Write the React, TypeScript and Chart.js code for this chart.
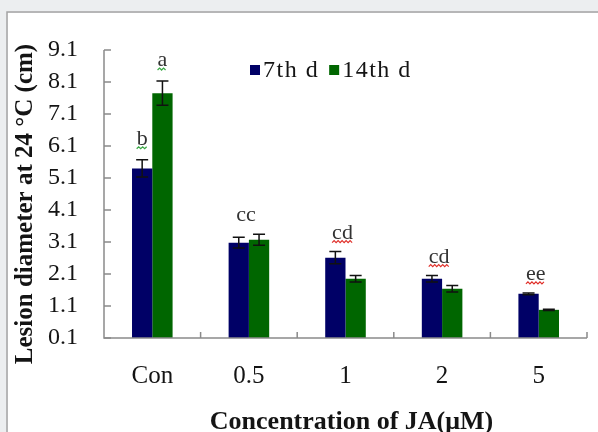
import React, { useEffect, useRef } from "react";
import { Chart, registerables } from "chart.js";

Chart.register(...registerables);

const categories = ["Con", "0.5", "1", "2", "5"];
const seriesNames = ["7th d", "14th d"];
const values7 = [5.4, 3.08, 2.61, 1.95, 1.48];
const errors7 = [0.27, 0.17, 0.19, 0.1, 0.03];
const values14 = [7.75, 3.17, 1.95, 1.64, 0.98];
const errors14 = [0.38, 0.17, 0.1, 0.1, 0.02];
const sig7 = ["b", "", "", "", ""];
const sig14 = ["a", "", "", "", ""];
const sigGroup = ["", "cc", "cd", "cd", "ee"];
const yTicks = [0.1, 1.1, 2.1, 3.1, 4.1, 5.1, 6.1, 7.1, 8.1, 9.1];
const yTickLabels = ["0.1", "1.1", "2.1", "3.1", "4.1", "5.1", "6.1", "7.1", "8.1", "9.1"];
const yTitle = "Lesion diameter at 24 °C (cm)";
const xTitle = "Concentration of JA(μM)";

const BLUE = "#000066";
const GREEN = "#006600";
const AXIS = "#8a8a8a";
const TEXT = "#141414";
const SERIF = "'Liberation Serif', 'Times New Roman', serif";

function wavyColor(label: string): string | null {
  if (label === "a" || label === "b") return "#3aa845";
  if (label === "cd" || label === "ee") return "#e0302a";
  return null;
}

function drawWavy(ctx: CanvasRenderingContext2D, x0: number, x1: number, y: number, color: string) {
  ctx.save();
  ctx.strokeStyle = color;
  ctx.lineWidth = 1.2;
  ctx.beginPath();
  let up = true;
  ctx.moveTo(x0, y);
  for (let x = x0 + 2; x <= x1; x += 2) {
    ctx.lineTo(x, up ? y - 2 : y);
    up = !up;
  }
  ctx.stroke();
  ctx.restore();
}

const framePlugin = {
  id: "frame",
  beforeDraw(chart: any) {
    const { ctx, width, height } = chart;
    ctx.save();
    ctx.fillStyle = "#eceef0";
    ctx.fillRect(0, 0, width, height);
    ctx.fillStyle = "#ffffff";
    ctx.fillRect(8, 13, width - 8, height - 13);
    ctx.strokeStyle = "#a4a4a4";
    ctx.lineWidth = 1.5;
    ctx.beginPath();
    ctx.moveTo(7, height);
    ctx.lineTo(7, 12);
    ctx.lineTo(width, 12);
    ctx.stroke();
    ctx.restore();
  },
};

const decorPlugin = {
  id: "decor",
  afterDatasetsDraw(chart: any) {
    const { ctx, chartArea } = chart;
    const xs = chart.scales.x;
    const ys = chart.scales.y;
    ctx.save();
    // axes
    ctx.strokeStyle = AXIS;
    ctx.lineWidth = 1.5;
    ctx.beginPath();
    ctx.moveTo(chartArea.left, chartArea.top);
    ctx.lineTo(chartArea.left, chartArea.bottom);
    ctx.lineTo(chartArea.right, chartArea.bottom);
    ctx.stroke();
    // inward ticks
    ctx.beginPath();
    yTicks.forEach((v) => {
      const py = ys.getPixelForValue(v);
      ctx.moveTo(chartArea.left, py);
      ctx.lineTo(chartArea.left + 7, py);
    });
    const step = xs.getPixelForValue(1) - xs.getPixelForValue(0);
    categories.forEach((_, i) => {
      const px = xs.getPixelForValue(i) + step / 2;
      ctx.moveTo(px, chartArea.bottom);
      ctx.lineTo(px, chartArea.bottom - 6);
    });
    ctx.stroke();

    // error bars
    const errs = [errors7, errors14];
    const vals = [values7, values14];
    ctx.strokeStyle = "#111";
    ctx.lineWidth = 1.5;
    chart.data.datasets.forEach((_: any, di: number) => {
      const meta = chart.getDatasetMeta(di);
      meta.data.forEach((bar: any, i: number) => {
        const v = vals[di][i];
        const e = errs[di][i];
        const yTop = ys.getPixelForValue(v + e);
        const yBot = ys.getPixelForValue(v - e);
        ctx.beginPath();
        ctx.moveTo(bar.x, yTop);
        ctx.lineTo(bar.x, yBot);
        ctx.moveTo(bar.x - 6, yTop);
        ctx.lineTo(bar.x + 6, yTop);
        ctx.moveTo(bar.x - 6, yBot);
        ctx.lineTo(bar.x + 6, yBot);
        ctx.stroke();
      });
    });

    // significance letters
    ctx.font = `22px ${SERIF}`;
    ctx.fillStyle = "#333";
    ctx.textAlign = "center";
    ctx.textBaseline = "alphabetic";
    const m0 = chart.getDatasetMeta(0);
    const m1 = chart.getDatasetMeta(1);
    const putLabel = (text: string, x: number, baseline: number) => {
      if (!text) return;
      ctx.fillText(text, x, baseline);
      const w = ctx.measureText(text).width;
      const c = wavyColor(text);
      if (c) drawWavy(ctx, x - w / 2, x + w / 2, baseline + 4, c);
    };
    categories.forEach((_, i) => {
      const top7 = ys.getPixelForValue(values7[i] + errors7[i]);
      const top14 = ys.getPixelForValue(values14[i] + errors14[i]);
      putLabel(sig7[i], m0.data[i].x, top7 - 15);
      putLabel(sig14[i], m1.data[i].x, top14 - 15);
      putLabel(sigGroup[i], xs.getPixelForValue(i) - 3, Math.min(top7, top14) - 13);
    });

    // legend
    const legX = chartArea.left + 146;
    const legY = chartArea.top + 15;
    ctx.font = `24px ${SERIF}`;
    ctx.textAlign = "left";
    ctx.fillStyle = TEXT;
    (ctx as any).letterSpacing = "1.5px";
    let cx = legX;
    chart.data.datasets.forEach((ds: any) => {
      ctx.fillStyle = ds.backgroundColor;
      ctx.fillRect(cx, legY, 10, 10);
      ctx.fillStyle = TEXT;
      ctx.fillText(ds.label, cx + 13, legY + 12);
      cx += 13 + ctx.measureText(ds.label).width + 10;
    });
    (ctx as any).letterSpacing = "0px";

    // axis titles
    ctx.fillStyle = TEXT;
    ctx.textAlign = "center";
    ctx.textBaseline = "middle";
    ctx.font = `bold 26px ${SERIF}`;
    ctx.fillText(xTitle, (chartArea.left + chartArea.right) / 2 + 6, chartArea.bottom + 84);
    ctx.save();
    ctx.translate(26, (chartArea.top + chartArea.bottom) / 2 + 10);
    ctx.rotate(-Math.PI / 2);
    ctx.font = `bold 25px ${SERIF}`;
    ctx.fillText(yTitle, 0, 0);
    ctx.restore();
    ctx.restore();
  },
};

export default function App() {
  const ref = useRef<HTMLCanvasElement | null>(null);
  useEffect(() => {
    if (!ref.current) return;
    const chart = new Chart(ref.current, {
      type: "bar",
      data: {
        labels: categories,
        datasets: [
          { label: seriesNames[0], data: values7, backgroundColor: BLUE, borderWidth: 0 },
          { label: seriesNames[1], data: values14, backgroundColor: GREEN, borderWidth: 0 },
        ],
      },
      options: {
        animation: false,
        responsive: false,
        devicePixelRatio: 1,
        layout: { padding: { left: 0, right: 11, top: 50, bottom: 0 } },
        datasets: { bar: { categoryPercentage: 0.42, barPercentage: 1 } },
        plugins: { legend: { display: false }, tooltip: { enabled: false } },
        scales: {
          x: {
            grid: { display: false, drawTicks: false },
            border: { display: false },
            ticks: { font: { family: SERIF, size: 25 }, color: TEXT, padding: 23, maxRotation: 0 },
            afterFit: (s: any) => { s.height = 94; },
          },
          y: {
            min: 0.1,
            max: 9.1,
            grid: { display: false, drawTicks: false },
            border: { display: false },
            afterBuildTicks: (s: any) => { s.ticks = yTicks.map((v) => ({ value: v })); },
            ticks: {
              font: { family: SERIF, size: 24 },
              color: TEXT,
              padding: 26,
              callback: (_v: any, i: number) => yTickLabels[i],
            },
            afterFit: (s: any) => { s.width = 104; },
          },
        },
      },
      plugins: [framePlugin, decorPlugin],
    });
    return () => chart.destroy();
  }, []);
  return (
    <div style={{ position: "fixed", left: 0, top: 0, width: 598, height: 432 }}>
      <canvas ref={ref} width={598} height={432} style={{ display: "block" }} />
    </div>
  );
}
